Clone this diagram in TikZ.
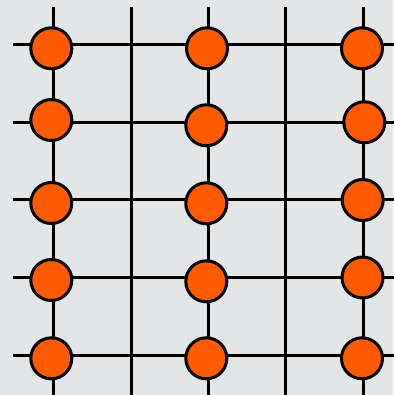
\documentclass[tikz,border=0pt]{standalone}
\usetikzlibrary{backgrounds}
\definecolor{bggrey}{HTML}{E4E5E7}
\definecolor{dotorange}{HTML}{FF5A00}
\begin{document}
\begin{tikzpicture}[x=1pt,y=-1pt,
  gridline/.style={draw=black,line width=3pt},
  dot/.style={circle,draw=black,fill=dotorange,line width=3pt,minimum size=41pt,inner sep=0pt}]
\fill[bggrey] (0,0) rectangle (393,395);
\useasboundingbox (0,0) rectangle (393,395);
% grid line end points
\foreach \n/\x in {1/53.3,2/131,3/208.3,4/285.7,5/363.3}{
  \coordinate (vt\n) at (\x,7.3);
  \coordinate (vb\n) at (\x,396);
}
\foreach \n/\y in {1/44.3,2/122.3,3/199.5,4/277.5,5/355}{
  \coordinate (hl\n) at (13.3,\y);
  \coordinate (hr\n) at (394,\y);
}
\foreach \n in {1,...,5}{
  \draw[gridline] (vt\n) -- (vb\n);
  \draw[gridline] (hl\n) -- (hr\n);
}
% dots
\node[dot] (a1) at (51.3,48.3) {};
\node[dot] (b1) at (207,48.3) {};
\node[dot] (c1) at (362,48.3) {};
\node[dot] (a2) at (51.3,120) {};
\node[dot] (b2) at (206.3,125.3) {};
\node[dot] (c2) at (364.3,122.3) {};
\node[dot] (a3) at (51.3,203) {};
\node[dot] (b3) at (206.3,203.3) {};
\node[dot] (c3) at (362.7,200) {};
\node[dot] (a4) at (51.3,280) {};
\node[dot] (b4) at (206.3,281.3) {};
\node[dot] (c4) at (362.5,277.5) {};
\node[dot] (a5) at (51.3,358.3) {};
\node[dot] (b5) at (206.3,358.3) {};
\node[dot] (c5) at (362,358.3) {};
\end{tikzpicture}
\end{document}
